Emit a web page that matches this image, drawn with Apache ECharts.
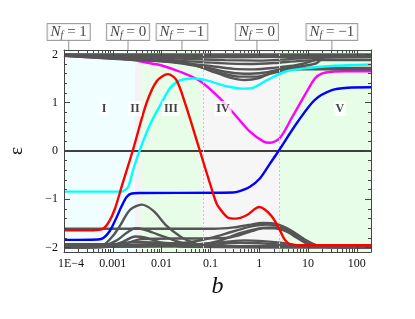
<!DOCTYPE html>
<html><head><meta charset="utf-8">
<script src="https://cdn.jsdelivr.net/npm/echarts@6/dist/echarts.min.js"></script>
<style>html,body{margin:0;padding:0;background:#fff}#c{width:415px;height:319px}</style>
</head><body><div id="c"></div>
<script>
// ---- data (b, epsilon) ----
const red = [[1e-4,-1.64],[4e-4,-1.64],[6.3e-4,-1.61],[8.5e-4,-1.45],[1.1e-3,-1.2],[1.6e-3,-0.66],[2.55e-3,0],[4.94e-3,1.0],[8e-3,1.45],[0.0135,1.59],[0.02,1.47],[0.03,1.0],[0.061,0],[0.124,-1.0],[0.143,-1.14],[0.23,-1.38],[0.33,-1.40],[0.55,-1.33],[1.0,-1.16],[1.3,-1.21],[1.8,-1.35],[2.4,-1.55],[3.36,-1.84],[4.3,-1.93],[6,-1.95],[195,-1.95]];
const blue = [[1e-4,-1.84],[5e-4,-1.83],[6.4e-4,-1.80],[8.75e-4,-1.65],[1.2e-3,-1.37],[1.52e-3,-1.14],[1.92e-3,-0.95],[2.44e-3,-0.88],[3.6e-3,-0.87],[0.29,-0.86],[0.4,-0.83],[0.645,-0.74],[1.03,-0.57],[1.66,-0.26],[2.41,-0.02],[6.2,0.61],[13.8,1.06],[30.8,1.26],[65.5,1.31],[195,1.32]];
const cyan = [[1e-4,-0.84],[1.3e-3,-0.84],[1.64e-3,-0.83],[2.07e-3,-0.74],[2.63e-3,-0.38],[3.6e-3,0.03],[5.8e-3,0.55],[0.01,1.0],[0.0148,1.3],[0.0238,1.46],[0.0445,1.50],[0.0837,1.46],[0.215,1.34],[0.464,1.29],[0.754,1.31],[1.42,1.46],[3.36,1.64],[8.6,1.71],[30.4,1.76],[195,1.79]];
const magenta = [[1e-4,1.975],[5.5e-4,1.95],[2.6e-3,1.88],[6.2e-3,1.81],[9.3e-3,1.78],[0.0238,1.64],[0.061,1.45],[0.157,1.09],[0.344,0.71],[0.645,0.40],[1.21,0.20],[1.66,0.17],[2.65,0.27],[4.61,0.68],[8.63,1.16],[13.8,1.50],[19,1.60],[30.4,1.64],[60,1.65],[195,1.65]];
const grayUpper = [
  [[1e-4,2.0],[195,2.0]],
  [[1e-4,1.995],[0.01,1.985],[1,1.975],[195,1.97]],
  [[1e-4,1.99],[3e-3,1.97],[0.03,1.95],[0.3,1.94],[3,1.95],[195,1.95]],
  [[1e-4,1.985],[3e-3,1.95],[0.03,1.91],[0.2,1.88],[1,1.87],[4,1.9],[12,1.93],[195,1.94]],
  [[1e-4,1.98],[3e-3,1.93],[0.03,1.86],[0.15,1.82],[0.6,1.8],[2,1.82],[6,1.86],[15,1.88],[195,1.88]],
  [[1e-4,1.98],[3e-3,1.91],[0.02,1.84],[0.1,1.76],[0.3,1.7],[0.8,1.69],[2,1.72],[6,1.78],[12,1.86],[20,1.95],[30,1.97],[195,1.97]],
  [[1e-4,1.975],[3e-3,1.9],[0.015,1.85],[0.06,1.76],[0.2,1.64],[0.5,1.6],[1.2,1.62],[3,1.7],[8,1.76],[15,1.82],[22,1.95],[195,1.96]],
  [[1e-4,1.97],[3e-3,1.89],[0.012,1.85],[0.05,1.76],[0.15,1.62],[0.4,1.54],[0.9,1.54],[2,1.62],[5,1.7],[12,1.72],[195,1.72]],
  [[1e-4,1.97],[3e-3,1.88],[0.01,1.86],[0.04,1.8],[0.1,1.66],[0.25,1.52],[0.5,1.47],[1,1.51],[1.6,1.6],[2.6,1.67],[5,1.69],[195,1.69]]
];
const grayLower = [
  [[1e-4,-1.61],[0.12,-1.61],[0.3,-1.58],[0.6,-1.53],[1.2,-1.49],[2.4,-1.52],[4.6,-1.65],[8.6,-1.83],[16,-1.96],[30,-1.98],[195,-1.98]],
  [[1e-4,-1.97],[0.03,-1.9],[0.1,-1.8],[0.3,-1.66],[0.7,-1.56],[1.4,-1.52],[2.5,-1.55],[4.6,-1.68],[8,-1.84],[14,-1.95],[30,-1.98],[195,-1.98]],
  [[1e-4,-1.98],[0.05,-1.94],[0.15,-1.86],[0.4,-1.7],[1,-1.6],[2,-1.58],[3.5,-1.62],[6,-1.74],[10,-1.88],[18,-1.97],[195,-1.98]],
  [[1e-4,-1.99],[4e-4,-1.98],[6.4e-4,-1.95],[1e-3,-1.76],[1.4e-3,-1.55],[2.25e-3,-1.22],[3.9e-3,-1.11],[6.8e-3,-1.24],[0.0127,-1.55],[0.025,-1.78],[0.04,-1.88],[0.065,-1.95],[0.12,-1.98],[195,-1.99]],
  [[1e-4,-1.99],[6e-4,-1.97],[1.2e-3,-1.85],[2e-3,-1.68],[2.9e-3,-1.6],[4.5e-3,-1.63],[8e-3,-1.72],[0.015,-1.82],[0.03,-1.92],[0.06,-1.97],[195,-1.99]],
  [[1e-4,-2.0],[8e-4,-1.98],[1.6e-3,-1.88],[2.9e-3,-1.77],[4.5e-3,-1.79],[8e-3,-1.87],[0.015,-1.94],[0.03,-1.98],[195,-2.0]],
  [[1e-4,-2.0],[1e-3,-1.97],[2e-3,-1.9],[4e-3,-1.82],[0.05,-1.81],[0.2,-1.8],[0.4,-1.74],[0.7,-1.66],[1.2,-1.6],[2,-1.6],[3.5,-1.66],[6,-1.8],[10,-1.93],[20,-1.98],[195,-2.0]],
  [[1e-4,-1.93],[1e-3,-1.93],[3e-3,-1.88],[0.01,-1.9],[0.05,-1.93],[0.2,-1.88],[0.5,-1.85],[1,-1.86],[3,-1.9],[8,-1.96],[195,-1.98]],
  [[1e-4,-1.96],[1e-3,-1.96],[0.01,-1.95],[0.1,-1.94],[0.4,-1.9],[1.5,-1.92],[5,-1.96],[195,-1.99]],
  [[1e-4,-1.99],[0.3,-1.97],[2,-1.97],[195,-2.0]]
];
const regionEdges = [1e-4, 0.00285, 0.00394, 0.0675, 2.54, 195];
const regionColors = ['#f0feff', '#f3f3f3', '#e7fde7', '#f6f6f6', '#e7fde7'];
const regionNames = ['I', 'II', 'III', 'IV', 'V'];
const regionLabelB = [6.6e-4, 2.85e-3, 0.0155, 0.18, 45];
const regionLabelY = 0.88;
const nfB = [1.25e-4, 2.05e-3, 0.0261, 0.897, 30.8];
const nfValues = ['1', '0', '\u22121', '0', '\u22121'];
const xTickLabels = ['1E\u22124', '0.001', '0.01', '0.1', '1', '10', '100'];
const yTicks = [-2, -1, 0, 1, 2];
const yTickLabels = ['\u22122', '\u22121', '0', '1', '2'];
const yMinorTicks = [-2,-1.8,-1.6,-1.4,-1.2,-1,-0.8,-0.6,-0.4,-0.2,0,0.2,0.4,0.6,0.8,1,1.2,1.4,1.6,1.8,2];
const xMinorMultipliers = [2, 3, 4, 5, 6, 7, 8, 9];
const xDecades = [-4, -3, -2, -1, 0, 1, 2];

const XMIN = 1e-4, XMAX = 195, YMIN = -2.09, YMAX = 2.09;
const serif = 'Liberation Serif';
const frame = '#444';

// minor ticks of the log axis, placed on a helper value axis spanning log10(b)
const xMinorLog = [];
xDecades.forEach(e => xMinorMultipliers.forEach(k => { const v = e + Math.log10(k); if (v <= Math.log10(XMAX)) xMinorLog.push(v); }));

function xAxisDef(pos, labels) {
  return {
    type: 'log', logBase: 10, min: XMIN, max: XMAX, position: pos, z: 10,
    axisLine: { show: true, onZero: false, lineStyle: { color: frame, width: 1 } },
    axisTick: { show: true, inside: true, length: 6, lineStyle: { color: frame } },
    axisLabel: { show: labels, fontFamily: serif, fontSize: 12, color: '#111', margin: 6,
      showMaxLabel: false,
      formatter: v => { const i = Math.round(Math.log10(v)) + 4; return i === 0 ? '{a|' + xTickLabels[0] + '}' : (xTickLabels[i] || ''); },
      rich: { a: { fontFamily: serif, fontSize: 12, color: '#111', padding: [0, 0, 0, 14] } } },
    splitLine: { show: false }
  };
}
function xMinorAxisDef(pos) {
  return {
    type: 'value', min: Math.log10(XMIN), max: Math.log10(XMAX), position: pos, z: 10,
    axisLine: { show: false, onZero: false },
    axisTick: { show: true, inside: true, length: 3, lineStyle: { color: frame }, customValues: xMinorLog },
    axisLabel: { show: false }, splitLine: { show: false }
  };
}
function yAxisDef(pos, labels, minor) {
  return {
    type: 'value', min: YMIN, max: YMAX, position: pos, z: 10,
    axisLine: { show: !minor, onZero: false, lineStyle: { color: frame, width: 1 } },
    axisTick: { show: true, inside: true, length: minor ? 3 : 6, lineStyle: { color: frame }, customValues: minor ? yMinorTicks : yTicks },
    axisLabel: { show: labels, customValues: yTicks, fontFamily: serif, fontSize: 12, color: '#111', margin: 6,
      formatter: v => yTickLabels[yTicks.indexOf(Math.round(v))] },
    splitLine: { show: false }
  };
}

const xAxes = [xAxisDef('bottom', true), xAxisDef('top', false), xMinorAxisDef('bottom'), xMinorAxisDef('top')];
xAxes[0].name = 'b';
xAxes[0].nameLocation = 'middle';
xAxes[0].nameGap = 22;
xAxes[0].nameTextStyle = { fontFamily: serif, fontStyle: 'italic', fontSize: 24, color: '#111' };
const yAxes = [yAxisDef('left', true, false), yAxisDef('right', false, false), yAxisDef('left', false, true), yAxisDef('right', false, true)];
yAxes[0].name = '\u03b5';
yAxes[0].nameLocation = 'middle';
yAxes[0].nameGap = 37;
yAxes[0].nameTextStyle = { fontFamily: serif, fontSize: 19, color: '#111' };

function lineSeries(data, color, z) {
  return { type: 'line', data: data, showSymbol: false, symbol: 'none', smooth: 0.3, z: z,
    lineStyle: { color: color, width: 2.4 }, silent: true, animation: false };
}

const series = [];
series.push({
  type: 'line', data: [[XMIN, 0], [XMAX, 0]], symbol: 'none', z: 1, silent: true, animation: false,
  lineStyle: { color: '#000', width: 1.4 },
  markArea: { silent: true, data: regionColors.map((c, i) => [{ xAxis: regionEdges[i], itemStyle: { color: c } }, { xAxis: regionEdges[i + 1] }]) },
  markLine: { silent: true, symbol: 'none', label: { show: false }, lineStyle: { color: '#c8c8c8', type: [2, 2], width: 1 },
    data: regionEdges.slice(1, 5).map(e => ({ xAxis: e })) }
});
series.push(lineSeries(magenta, '#ff00ff', 3));
grayUpper.forEach(d => series.push(lineSeries(d, '#555555', 4)));
grayLower.forEach(d => series.push(lineSeries(d, '#555555', 4)));
series.push(lineSeries(cyan, '#00ffff', 5));
series.push(lineSeries(blue, '#0000ff', 6));
series.push(lineSeries(red, '#ff0000', 7));
series.push({
  type: 'scatter', z: 12, silent: true, animation: false, clip: false, symbolSize: 0,
  data: regionNames.map((n, i) => ({ name: n, value: [regionLabelB[i], regionLabelY] })),
  label: { show: true, position: 'inside', formatter: p => p.name, fontFamily: serif, fontWeight: 'bold', fontSize: 12,
    color: '#111', backgroundColor: '#fff', padding: [2, 2, 1, 2] }
});
series.push({
  type: 'scatter', z: 12, silent: true, animation: false, clip: false,
  symbol: 'rect', symbolSize: [1, 10], symbolOffset: [0, -5], itemStyle: { color: '#777' },
  data: nfB.map(b => [b, YMAX]),
  label: { show: true, position: 'top', distance: 0,
    formatter: p => '{i|N}{s|f}{t| = ' + nfValues[p.dataIndex] + '}',
    backgroundColor: '#fff', borderColor: '#888', borderWidth: 1, padding: [0, 3, 0, 3],
    rich: {
      i: { fontFamily: serif, fontStyle: 'italic', fontSize: 15, lineHeight: 16, color: '#111' },
      s: { fontFamily: serif, fontStyle: 'italic', fontSize: 10, lineHeight: 10, verticalAlign: 'bottom', color: '#111' },
      t: { fontFamily: serif, fontSize: 15, lineHeight: 16, color: '#111' }
    } }
});

const chart = echarts.init(document.getElementById('c'), null, { renderer: 'canvas' });
chart.setOption({
  animation: false,
  grid: { left: 64, right: 44, top: 50, bottom: 67, outerBoundsMode: 'none', containLabel: false },
  xAxis: xAxes,
  yAxis: yAxes,
  series: series
});
</script></body></html>
